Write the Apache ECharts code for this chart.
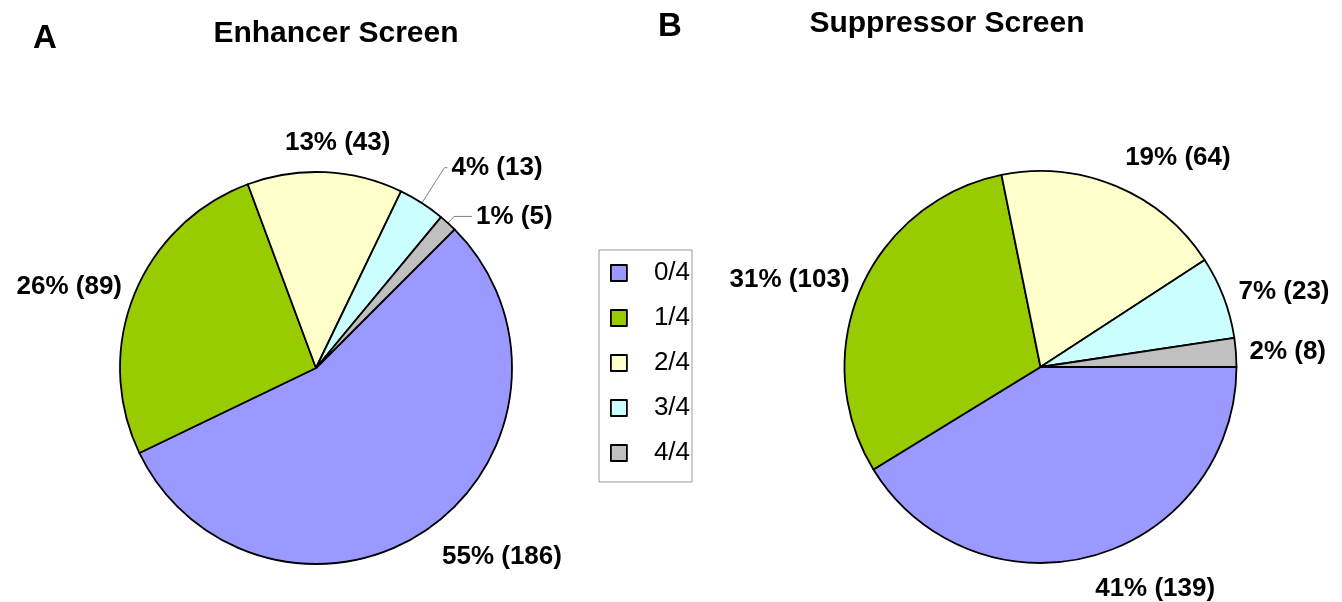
<!DOCTYPE html>
<html>
<head>
<meta charset="utf-8">
<script src="https://cdn.jsdelivr.net/npm/echarts@6/dist/echarts.min.js"></script>
<style>
html,body{margin:0;padding:0;background:#fff;}
#chart{width:1342px;height:602px;}
</style>
</head>
<body>
<div id="chart"></div>
<script>
// ---- data ----
const categories = ['0/4', '1/4', '2/4', '3/4', '4/4'];
const enhancerValues = [186, 89, 43, 13, 5];
const suppressorValues = [139, 103, 64, 23, 8];
const sliceColors = ['#9999FF', '#99CC00', '#FFFFCC', '#CCFFFF', '#C0C0C0'];
const panelLetters = ['A', 'B'];
const panelTitles = ['Enhancer Screen', 'Suppressor Screen'];

// ---- label placement (styles, kept apart from the data) ----
const enhancerLabelLines = [
  { show: false, length: 35.7, length2: -12.1 },
  { show: false, length: 20.6, length2: -10.9 },
  { show: false, length: 29.2, length2: -45.6 },
  { show: true, length: 42, length2: 3 },
  { show: true, length: 9, length2: 18 }
];
const suppressorLabelLines = [
  { show: false, length: 34.1, length2: -11.8 },
  { show: false, length: 22.8, length2: -13.7 },
  { show: false, length: 31.1, length2: -7 },
  { show: false, length: 15.5, length2: -3.7 },
  { show: false, length: 1, length2: 8.5 }
];

const FONT = "'Liberation Sans', Arial, Helvetica, sans-serif";

function textWidth(txt, size, weight) {
  const c = document.createElement('canvas').getContext('2d');
  c.font = weight + ' ' + size + 'px ' + FONT;
  return c.measureText(txt).width;
}

function buildData(values, lines) {
  return categories.map((name, i) => ({
    name: name,
    value: values[i],
    labelLine: lines[i]
  }));
}

function makePie(values, lines, center, startAngle) {
  const total = values.reduce((a, b) => a + b, 0);
  return {
    type: 'pie',
    center: center,
    radius: 196,
    startAngle: startAngle,
    clockwise: true,
    avoidLabelOverlap: false,
    minShowLabelAngle: 0,
    data: buildData(values, lines),
    itemStyle: { borderColor: '#000', borderWidth: 1.8 },
    label: {
      show: true,
      position: 'outside',
      distanceToLabelLine: 4,
      formatter: p => Math.round(p.value / total * 100) + '% (' + p.value + ')',
      fontFamily: FONT,
      fontSize: 26,
      fontWeight: 'bold',
      color: '#000'
    },
    labelLine: {
      lineStyle: { color: '#808080', width: 1 }
    },
    emphasis: { disabled: true },
    animation: false
  };
}

const titleSize = 30;
const titleCenters = [336, 947];
const titleTops = [33.5 - titleSize / 2, 24 - titleSize / 2];

const option = {
  backgroundColor: '#fff',
  color: sliceColors,
  animation: false,
  title: [
    { text: panelLetters[0], left: 33, top: 22, padding: 0,
      textStyle: { fontFamily: FONT, fontSize: 33, fontWeight: 'bold', color: '#000' } },
    { text: panelLetters[1], left: 658, top: 10.5, padding: 0,
      textStyle: { fontFamily: FONT, fontSize: 33, fontWeight: 'bold', color: '#000' } },
    { text: panelTitles[0], left: titleCenters[0] - textWidth(panelTitles[0], titleSize, 'bold') / 2,
      top: titleTops[0], padding: 0,
      textStyle: { fontFamily: FONT, fontSize: titleSize, fontWeight: 'bold', color: '#000' } },
    { text: panelTitles[1], left: titleCenters[1] - textWidth(panelTitles[1], titleSize, 'bold') / 2,
      top: titleTops[1], padding: 0,
      textStyle: { fontFamily: FONT, fontSize: titleSize, fontWeight: 'bold', color: '#000' } }
  ],
  legend: {
    data: categories,
    orient: 'vertical',
    left: 599,
    top: 250,
    padding: [10, 2, 16, 11],
    itemWidth: 16,
    itemHeight: 16,
    itemGap: 19,
    icon: 'rect',
    borderColor: '#999',
    borderWidth: 1,
    backgroundColor: '#fff',
    selectedMode: false,
    itemStyle: { borderColor: '#000', borderWidth: 1.8 },
    textStyle: {
      fontFamily: FONT,
      fontSize: 26,
      lineHeight: 26,
      color: '#000',
      padding: [0, 0, 0, 22]
    }
  },
  series: [
    makePie(enhancerValues, enhancerLabelLines, [316, 368], 45),
    makePie(suppressorValues, suppressorLabelLines, [1040.5, 367], 0)
  ]
};

const chart = echarts.init(document.getElementById('chart'), null, { renderer: 'canvas' });
chart.setOption(option);
</script>
</body>
</html>
